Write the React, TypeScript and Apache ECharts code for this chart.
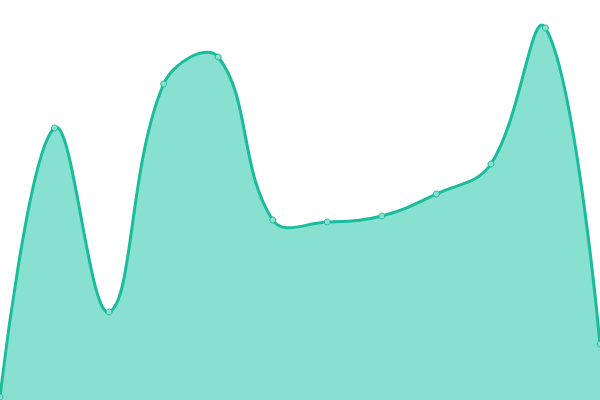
import React, { useEffect, useRef } from "react";
import * as echarts from "echarts";

const categories = ["1", "2", "3", "4", "5", "6", "7", "8", "9", "10", "11", "12"];
const values = [3, 272, 88, 316, 343, 180, 178, 184, 206, 236, 372, 56];

const LINE = "#1abc9c";
const AREA = "#88e0d0";

function buildPath(pts: number[][], smooth: number) {
  const n = pts.length;
  const cps: number[][][] = [];
  for (let i = 0; i < n; i++) {
    const p = pts[i];
    if (i === 0 || i === n - 1) {
      cps.push([p, p]);
      continue;
    }
    const prev = pts[i - 1];
    const next = pts[i + 1];
    const vx = (next[0] - prev[0]) * smooth;
    const vy = (next[1] - prev[1]) * smooth;
    const d0 = Math.hypot(p[0] - prev[0], p[1] - prev[1]);
    const d1 = Math.hypot(next[0] - p[0], next[1] - p[1]);
    const s = d0 + d1 || 1;
    cps.push([
      [p[0] - (vx * d0) / s, p[1] - (vy * d0) / s],
      [p[0] + (vx * d1) / s, p[1] + (vy * d1) / s],
    ]);
  }
  let d = `M${pts[0][0]},${pts[0][1]}`;
  for (let i = 1; i < n; i++) {
    const c1 = cps[i - 1][1];
    const c2 = cps[i][0];
    const p = pts[i];
    d += ` C${c1[0]},${c1[1]} ${c2[0]},${c2[1]} ${p[0]},${p[1]}`;
  }
  return d;
}

export default function App() {
  const ref = useRef<HTMLDivElement>(null);
  useEffect(() => {
    document.body.style.margin = "0";
    const chart = echarts.init(ref.current!, null, { renderer: "svg" });
    chart.setOption({
      animation: false,
      grid: { left: 0, right: 0, top: 0, bottom: 0 },
      xAxis: {
        type: "category",
        data: categories,
        boundaryGap: false,
        show: false,
      },
      yAxis: { type: "value", min: 0, max: 400, show: false },
      series: [
        {
          type: "custom",
          data: values.map((v, i) => [i, v]),
          encode: { x: 0, y: 1 },
          silent: true,
          clip: false,
          renderItem: (params: any, api: any) => {
            if (params.dataIndex !== 0) return null;
            const pts = values.map((v, i) => api.coord([i, v]));
            const base = api.coord([0, 0])[1];
            const line = buildPath(pts, 0.4);
            const area =
              line +
              ` L${pts[pts.length - 1][0]},${base} L${pts[0][0]},${base} Z`;
            return {
              type: "group",
              children: [
                {
                  type: "path",
                  shape: { pathData: area },
                  style: { fill: AREA, stroke: null },
                },
                {
                  type: "path",
                  shape: { pathData: line },
                  style: { fill: null, stroke: LINE, lineWidth: 3 },
                },
              ],
            };
          },
        },
        {
          type: "line",
          data: values,
          symbol: "circle",
          symbolSize: 6,
          lineStyle: { width: 0, opacity: 0 },
          itemStyle: { color: "#8ae0d0", borderColor: LINE, borderWidth: 1 },
        },
      ],
    });
    return () => chart.dispose();
  }, []);
  return <div ref={ref} style={{ width: 600, height: 400 }} />;
}
